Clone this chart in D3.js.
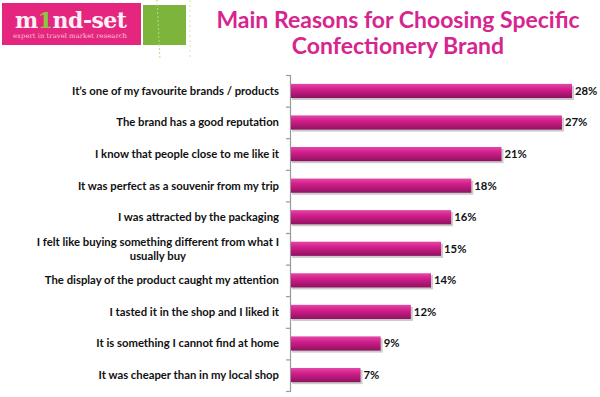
<!DOCTYPE html>
<html>
<head>
<meta charset="utf-8">
<script src="https://cdn.jsdelivr.net/npm/d3@7"></script>
<style>
  body { margin: 0; background: #fff; }
  svg { display: block; font-family: Lato, "Open Sans", sans-serif; }
</style>
</head>
<body>
<div id="chart"></div>
<script>
// Data
var categories = [
  "It\u2019s one of my favourite brands / products",
  "The brand has a good reputation",
  "I know that people close to me like it",
  "It was perfect as a souvenir from my trip",
  "I was attracted by the packaging",
  "I felt like buying something different from what I|usually buy",
  "The display of the product caught my attention",
  "I tasted it in the shop and I liked it",
  "It is something I cannot find at home",
  "It was cheaper than in my local shop"
];
var values = [28, 27, 21, 18, 16, 15, 14, 12, 9, 7];
var titleLines = ["Main Reasons for Choosing Specific", "Confectionery Brand"];

var width = 600,
    height = 397;

var svg = d3.select("#chart")
  .append("svg")
    .attr("width", width)
    .attr("height", height);

// Gradient for bars
var defs = svg.append("defs");
var grad = defs.append("linearGradient")
  .attr("id", "barGrad")
  .attr("x1", 0).attr("y1", 0).attr("x2", 0).attr("y2", 1);
grad.append("stop").attr("offset", "0%").attr("stop-color", "#e04ba6");
grad.append("stop").attr("offset", "35%").attr("stop-color", "#d61f8d");
grad.append("stop").attr("offset", "100%").attr("stop-color", "#8e1260");

// Logo
var logo = svg.append("g");
logo.append("rect")
  .attr("x", 2).attr("y", 3).attr("width", 139).attr("height", 42)
  .attr("fill", "#e5267f");
logo.append("rect")
  .attr("x", 143).attr("y", 5).attr("width", 43).attr("height", 40)
  .attr("fill", "#7db53c");
logo.append("line")
  .attr("x1", 157).attr("y1", 0).attr("x2", 160).attr("y2", 60)
  .attr("stroke", "#b5d98a").attr("stroke-dasharray", "2,2");
logo.append("line")
  .attr("x1", 190).attr("y1", 0).attr("x2", 190).attr("y2", 60)
  .attr("stroke", "#cfe6b0").attr("stroke-dasharray", "2,3");
var lt = logo.append("text")
  .attr("x", 15).attr("y", 28)
  .attr("font-family", "'DejaVu Serif', serif")
  .attr("font-weight", "bold")
  .attr("font-size", 22)
  .attr("textLength", 112)
  .attr("lengthAdjust", "spacing")
  .attr("fill", "#fbeef4");
lt.append("tspan").text("m");
lt.append("tspan").attr("fill", "#8cc63f").text("1");
lt.append("tspan").text("nd-set");
logo.append("text")
  .attr("x", 13).attr("y", 38)
  .attr("font-family", "'DejaVu Serif', serif")
  .attr("font-size", 6.5)
  .attr("textLength", 114)
  .attr("lengthAdjust", "spacingAndGlyphs")
  .attr("fill", "#f6c2dc")
  .text("expert in travel market research");

// Title
svg.append("g")
  .selectAll("text")
  .data(titleLines)
  .enter()
  .append("text")
    .attr("x", 398)
    .attr("y", function(d, i) { return 28 + i * 26; })
    .attr("text-anchor", "middle")
    .attr("font-size", 23)
    .attr("font-weight", "bold")
    .attr("fill", "#d6258f")
    .text(function(d) { return d; });

// Scales
var x0 = 290;
var scaleY = d3.scaleBand()
  .domain(categories)
  .range([75, 391])
  .paddingInner(0.55)
  .paddingOuter(0.28);

var scaleX = d3.scaleLinear()
  .domain([0, 28])
  .range([x0, 572]);

// Axis
var axis = d3.axisLeft(d3.scaleLinear().domain([0, 10]).range([75, 391]))
  .ticks(10)
  .tickSize(4)
  .tickFormat("");
svg.append("g")
  .attr("transform", "translate(" + x0 + ",0)")
  .call(axis)
  .call(function(g) {
    g.selectAll("path, line").attr("stroke", "#999").attr("stroke-width", 1.2);
  });

// Bars
var bars = svg.append("g");
bars.selectAll(".shadow")
  .data(values)
  .enter()
  .append("rect")
    .attr("class", "shadow")
    .attr("x", x0 + 2)
    .attr("y", function(d, i) { return scaleY(categories[i]) + 2; })
    .attr("width", function(d) { return scaleX(d) - x0; })
    .attr("height", scaleY.bandwidth())
    .attr("fill", "#ccc");
bars.selectAll(".bar")
  .data(values)
  .enter()
  .append("rect")
    .attr("class", "bar")
    .attr("x", x0 + 1)
    .attr("y", function(d, i) { return scaleY(categories[i]); })
    .attr("width", function(d) { return scaleX(d) - x0 - 1; })
    .attr("height", scaleY.bandwidth())
    .attr("fill", "url(#barGrad)");

// Value labels
svg.append("g")
  .selectAll("text")
  .data(values)
  .enter()
  .append("text")
    .attr("x", function(d) { return scaleX(d) + 3; })
    .attr("y", function(d, i) { return scaleY(categories[i]) + scaleY.bandwidth() / 2; })
    .attr("dy", "0.35em")
    .attr("font-size", 11.3)
    .attr("font-weight", "bold")
    .attr("fill", "#111")
    .text(function(d) { return d + "%"; });

// Category labels (two-line label is centred as a block, right edge at 279)
var labelRight = 279;
var labels = svg.append("g")
  .selectAll("text")
  .data(categories)
  .enter()
  .append("text")
    .attr("y", function(d) { return scaleY(d) + scaleY.bandwidth() / 2; })
    .attr("font-size", 11.3)
    .attr("font-weight", "bold")
    .attr("fill", "#111");

labels.each(function(d) {
  var parts = d.split("|");
  var t = d3.select(this);
  if (parts.length == 1) {
    t.append("tspan").attr("x", labelRight).attr("text-anchor", "end")
      .attr("dy", "0.35em").text(d);
    return;
  }
  var first = t.append("tspan").attr("x", labelRight).attr("text-anchor", "end")
    .attr("dy", "-0.25em").text(parts[0]);
  var w = first.node().getComputedTextLength();
  t.append("tspan").attr("x", labelRight - w / 2).attr("text-anchor", "middle")
    .attr("dy", "1.25em").text(parts[1]);
});
</script>
</body>
</html>
